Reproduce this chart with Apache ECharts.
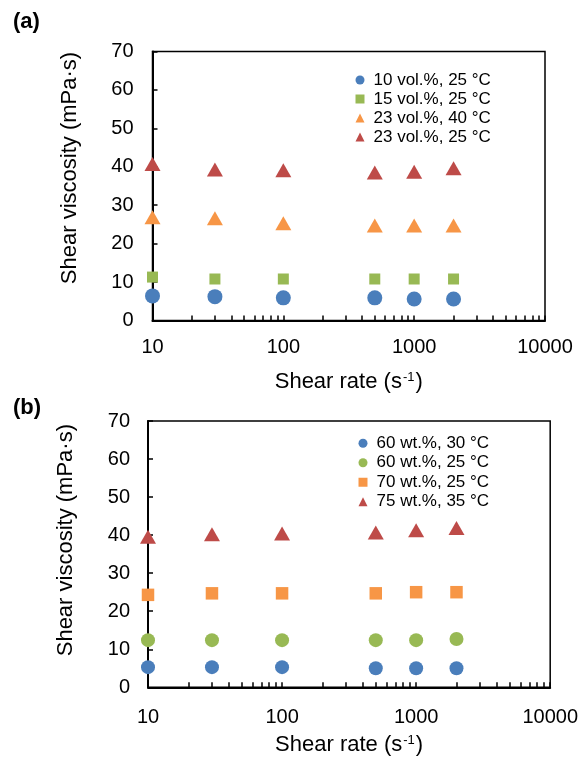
<!DOCTYPE html>
<html>
<head>
<meta charset="utf-8">
<script src="https://cdn.jsdelivr.net/npm/echarts@6/dist/echarts.min.js"></script>
<style>
  html, body { margin: 0; padding: 0; background: #fff; }
  #chart { width: 581px; height: 765px; }
</style>
</head>
<body>
<div id="chart"></div>
<script>
// shear rate of every measurement (s-1)
var shearRates = [10, 30, 100, 500, 1000, 2000];

// panel (a): suspensions in vol.%
var namesA = ['10 vol.%, 25 °C', '15 vol.%, 25 °C', '23 vol.%, 40 °C', '23 vol.%, 25 °C'];
var vol10at25 = [6.4, 6.2, 5.9, 5.9, 5.6, 5.6];
var vol15at25 = [11.3, 10.8, 10.8, 10.8, 10.8, 10.8];
var vol23at40 = [26.9, 26.6, 25.3, 24.7, 24.7, 24.7];
var vol23at25 = [40.7, 39.3, 39.1, 38.5, 38.7, 39.6];

// panel (b): solutions in wt.%
var namesB = ['60 wt.%, 30 °C', '60 wt.%, 25 °C', '70 wt.%, 25 °C', '75 wt.%, 35 °C'];
var wt60at30 = [5.3, 5.3, 5.3, 5.0, 5.0, 5.0];
var wt60at25 = [12.4, 12.4, 12.4, 12.4, 12.4, 12.7];
var wt70at25 = [24.3, 24.7, 24.7, 24.7, 25.0, 25.0];
var wt75at35 = [39.6, 40.2, 40.4, 40.7, 41.3, 41.9];

// log axis ticks (major + minor)
var xTicks = [10, 20, 30, 40, 50, 60, 70, 80, 90,
  100, 200, 300, 400, 500, 600, 700, 800, 900,
  1000, 2000, 3000, 4000, 5000, 6000, 7000, 8000, 9000, 10000];

var FONT = 'Liberation Sans, Arial, sans-serif';
var BLUE = '#4a7ebb', RED = '#be4b48', GREEN = '#98b954', ORANGE = '#f79646';

function pairs(ys) {
  return shearRates.map(function (x, i) { return [x, ys[i]]; });
}

function xAxisFor(idx, labelMargin, nameGap) {
  return {
    type: 'log', gridIndex: idx, min: 10, max: 10000, logBase: 10,
    name: 'Shear rate (s{sup|-1})', nameLocation: 'middle', nameGap: nameGap,
    nameTextStyle: {
      fontFamily: FONT, fontSize: 22, color: '#000',
      rich: { sup: { fontFamily: FONT, fontSize: 13, color: '#000', verticalAlign: 'top', padding: [0, 1, 8, 1] } }
    },
    axisLine: { lineStyle: { color: '#000', width: 2 } },
    axisTick: { inside: true, length: 5, customValues: xTicks, lineStyle: { color: '#000', width: 1.5 } },
    axisLabel: {
      fontFamily: FONT, fontSize: 20, color: '#000', margin: labelMargin,
      formatter: function (v) { return String(v); }
    },
    splitLine: { show: false }
  };
}

function yAxisFor(idx, labelMargin, nameGap, shift) {
  return {
    type: 'value', gridIndex: idx, min: 0, max: 70, interval: 10,
    name: 'Shear viscosity (mPa·s)', nameLocation: 'middle', nameGap: nameGap,
    nameTextStyle: { fontFamily: FONT, fontSize: 22, color: '#000', padding: [0, 0, 0, shift] },
    axisLine: { show: true, lineStyle: { color: '#000', width: 2 } },
    axisTick: { show: true, inside: true, length: 5, lineStyle: { color: '#000', width: 1.5 } },
    axisLabel: { fontFamily: FONT, fontSize: 20, color: '#000', margin: labelMargin },
    splitLine: { show: false }
  };
}

function scatter(name, ys, idx, symbol, size, color) {
  return {
    name: name, type: 'scatter', xAxisIndex: idx, yAxisIndex: idx,
    symbol: symbol, symbolSize: size, clip: false,
    itemStyle: { color: color, opacity: 1 },
    data: pairs(ys)
  };
}

var myChart = echarts.init(document.getElementById('chart'));
var option = {
  animation: false,
  backgroundColor: '#fff',
  title: [
    { text: '(a)', left: 8, top: 6, textStyle: { fontFamily: FONT, fontSize: 22, fontWeight: 'bold', color: '#000' } },
    { text: '(b)', left: 8, top: 392, textStyle: { fontFamily: FONT, fontSize: 22, fontWeight: 'bold', color: '#000' } }
  ],
  grid: [
    { left: 152.5, top: 51.5, width: 392.5, height: 269, show: true, borderColor: '#000', borderWidth: 1.5 },
    { left: 148, top: 421, width: 402.5, height: 266.3, show: true, borderColor: '#000', borderWidth: 1.5 }
  ],
  legend: [
    {
      data: namesA, orient: 'vertical', left: 350.5, top: 65.5, itemGap: 0,
      itemWidth: 9, itemHeight: 9,
      textStyle: { fontFamily: FONT, fontSize: 17, color: '#000', lineHeight: 19, padding: [0, 0, 0, 4] }
    },
    {
      data: namesB, orient: 'vertical', left: 353.5, top: 428.5, itemGap: 0,
      itemWidth: 9, itemHeight: 9,
      textStyle: { fontFamily: FONT, fontSize: 17, color: '#000', lineHeight: 19.5, padding: [0, 0, 0, 4] }
    }
  ],
  xAxis: [xAxisFor(0, 17, 50), xAxisFor(1, 20, 47)],
  yAxis: [yAxisFor(0, 19, 72, 36), yAxisFor(1, 18, 71, 28)],
  series: [
    scatter(namesA[0], vol10at25, 0, 'circle', 15, BLUE),
    scatter(namesA[1], vol15at25, 0, 'rect', 11, GREEN),
    scatter(namesA[2], vol23at40, 0, 'triangle', [16, 14], ORANGE),
    scatter(namesA[3], vol23at25, 0, 'triangle', [16, 14], RED),
    scatter(namesB[0], wt60at30, 1, 'circle', 14, BLUE),
    scatter(namesB[1], wt60at25, 1, 'circle', 14, GREEN),
    scatter(namesB[2], wt70at25, 1, 'rect', 12.5, ORANGE),
    scatter(namesB[3], wt75at35, 1, 'triangle', [16, 14], RED)
  ]
};
myChart.setOption(option);
</script>
</body>
</html>
